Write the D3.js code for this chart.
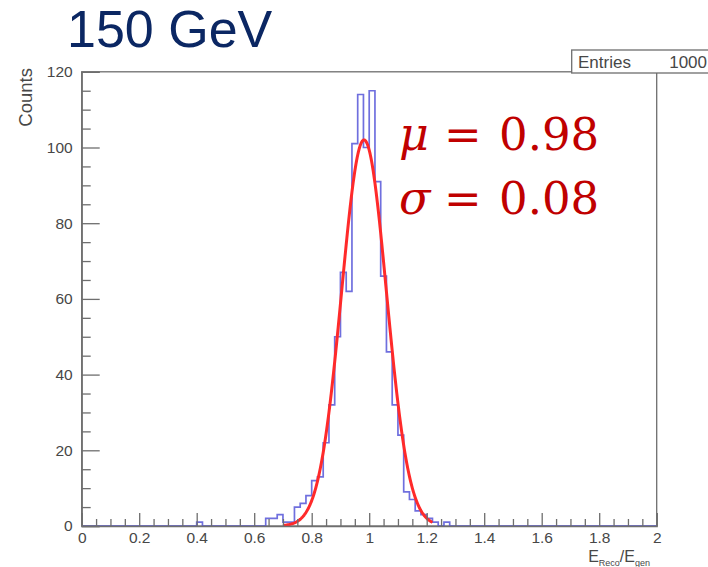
<!DOCTYPE html>
<html>
<head>
<meta charset="utf-8">
<script src="https://cdn.jsdelivr.net/npm/d3@7"></script>
<style>
  html, body { margin: 0; padding: 0; background: #fff; }
  svg { display: block; }
</style>
</head>
<body>
<script>
// ---------------- data ----------------
const histRange = [0, 2];
const binWidth = 0.02;
// lower edges of non-empty bins and their counts
const binLowEdges = [0.40, 0.64, 0.66, 0.68, 0.70, 0.72, 0.74, 0.76, 0.78, 0.80,
                     0.82, 0.84, 0.86, 0.88, 0.90, 0.92, 0.94, 0.96, 0.98, 1.00,
                     1.02, 1.04, 1.06, 1.08, 1.10, 1.12, 1.14, 1.16, 1.18, 1.20,
                     1.22, 1.26];
const binCounts   = [1, 2, 2, 3, 1, 1, 5, 6, 8, 12,
                     13, 22, 32, 50, 67, 62, 101, 114, 100, 115,
                     91, 66, 46, 32, 24, 9, 7, 4, 3, 2,
                     1, 1];
// Gaussian fit parameters
const fitAmp = 102, fitMu = 0.982, fitSigma = 0.078;
const fitRange = [0.70, 1.22];
const xTickValues = [0, 0.2, 0.4, 0.6, 0.8, 1, 1.2, 1.4, 1.6, 1.8, 2];
const xTickLabels = ["0", "0.2", "0.4", "0.6", "0.8", "1", "1.2", "1.4", "1.6", "1.8", "2"];
const yTickValues = [0, 20, 40, 60, 80, 100, 120];
const yTickLabels = ["0", "20", "40", "60", "80", "100", "120"];
const titleText = "150 GeV";
const entriesText = "1000";
const muText = "0.98", sigmaText = "0.08";

// ---------------- chart ----------------
const W = 708, H = 567;
const svg = d3.select("body").append("svg").attr("width", W).attr("height", H);

const x = d3.scaleLinear().domain(histRange).range([81.7, 656.7]);
const y = d3.scaleLinear().domain([0, 120]).range([526, 71.8]);

const axisColor = "#6e6e6e";
const labelColor = "#474747";
const sans = "Liberation Sans, Arial, sans-serif";

// frame
svg.append("rect")
  .attr("x", x(0)).attr("y", y(120))
  .attr("width", x(2) - x(0)).attr("height", y(0) - y(120))
  .attr("fill", "none").attr("stroke", axisColor).attr("stroke-width", 1.3);

// histogram (full bins)
const nBins = Math.round((histRange[1] - histRange[0]) / binWidth);
const full = new Array(nBins).fill(0);
binLowEdges.forEach((e, i) => { full[Math.round((e - histRange[0]) / binWidth)] = binCounts[i]; });
const pts = [];
pts.push([x(histRange[0]), y(0)]);
full.forEach((c, i) => {
  const lo = histRange[0] + i * binWidth, hi = lo + binWidth;
  pts.push([x(lo), y(c)]);
  pts.push([x(hi), y(c)]);
});
pts.push([x(histRange[1]), y(0)]);
svg.append("path")
  .attr("d", d3.line()(pts))
  .attr("fill", "none")
  .attr("stroke", "#5656d8")
  .attr("stroke-opacity", 0.85)
  .attr("stroke-width", 1.7);

// fit curve
const fitPts = d3.range(fitRange[0], fitRange[1] + 1e-9, 0.002).map(v =>
  [x(v), y(fitAmp * Math.exp(-0.5 * Math.pow((v - fitMu) / fitSigma, 2)))]);
svg.append("path")
  .attr("d", d3.line()(fitPts))
  .attr("fill", "none")
  .attr("stroke", "#ff2a2a")
  .attr("stroke-width", 3)
  .attr("stroke-linejoin", "round");

// y axis: minor ticks
const yMinor = d3.range(0, 121, 5).filter(v => v % 20 !== 0);
svg.append("g").attr("transform", `translate(${x(0)},0)`)
  .call(d3.axisLeft(y).tickValues(yMinor).tickSize(-9).tickFormat(""))
  .call(g => g.select(".domain").remove())
  .call(g => g.selectAll("line").attr("stroke", axisColor).attr("stroke-width", 1.3));
// y axis: major ticks + labels
svg.append("g").attr("transform", `translate(${x(0)},0)`)
  .call(d3.axisLeft(y).tickValues(yTickValues).tickSize(-18).tickPadding(9)
        .tickFormat((d, i) => yTickLabels[i]))
  .call(g => g.select(".domain").attr("stroke", axisColor).attr("stroke-width", 1.3))
  .call(g => g.selectAll("line").attr("stroke", axisColor).attr("stroke-width", 1.3))
  .call(g => g.selectAll("text").attr("fill", labelColor)
        .attr("font-family", sans).attr("font-size", 15.5));

// x axis: minor ticks
const xMinor = d3.range(0, 2.0001, 0.05).map(v => +v.toFixed(2))
  .filter(v => Math.abs(v / 0.2 - Math.round(v / 0.2)) > 1e-6);
svg.append("g").attr("transform", `translate(0,${y(0)})`)
  .call(d3.axisBottom(x).tickValues(xMinor).tickSize(-7).tickFormat(""))
  .call(g => g.select(".domain").remove())
  .call(g => g.selectAll("line").attr("stroke", axisColor).attr("stroke-width", 1.3));
// x axis: major ticks + labels
svg.append("g").attr("transform", `translate(0,${y(0)})`)
  .call(d3.axisBottom(x).tickValues(xTickValues).tickSize(-13).tickPadding(6)
        .tickFormat((d, i) => xTickLabels[i]))
  .call(g => g.select(".domain").attr("stroke", axisColor).attr("stroke-width", 1.3))
  .call(g => g.selectAll("line").attr("stroke", axisColor).attr("stroke-width", 1.3))
  .call(g => g.selectAll("text").attr("fill", labelColor)
        .attr("font-family", sans).attr("font-size", 15.5));

// y axis title
svg.append("text")
  .attr("transform", "translate(31.5,68) rotate(-90)")
  .attr("text-anchor", "end")
  .attr("font-family", sans)
  .attr("font-size", 18.5)
  .attr("fill", labelColor)
  .text("Counts");

// x axis title  E_Reco / E_gen
const xt = svg.append("text")
  .attr("x", 650).attr("y", 562)
  .attr("text-anchor", "end")
  .attr("font-family", sans)
  .attr("font-size", 16)
  .attr("fill", labelColor);
xt.append("tspan").text("E");
xt.append("tspan").attr("font-size", 9).attr("dy", 3.5).text("Reco");
xt.append("tspan").attr("dy", -3.5).text("/E");
xt.append("tspan").attr("font-size", 9).attr("dy", 3.5).text("gen");

// stats box
svg.append("rect")
  .attr("x", 571.7).attr("y", 50).attr("width", 150).attr("height", 23)
  .attr("fill", "#fff").attr("stroke", axisColor).attr("stroke-width", 1.3);
svg.append("text").attr("x", 578).attr("y", 68)
  .attr("font-family", sans).attr("font-size", 17)
  .attr("fill", labelColor).text("Entries");
svg.append("text").attr("x", 707).attr("y", 68).attr("text-anchor", "end")
  .attr("font-family", sans).attr("font-size", 17)
  .attr("fill", labelColor).text(entriesText);

// title
svg.append("text")
  .attr("x", 67).attr("y", 47)
  .attr("font-family", sans)
  .attr("font-size", 52)
  .attr("fill", "#0b2763")
  .text(titleText);

// fit result annotation
const red = "#c00000";
function statLine(sym, val, baseline) {
  svg.append("text").attr("x", 399).attr("y", baseline)
    .attr("font-family", "DejaVu Serif, serif").attr("font-style", "italic")
    .attr("font-size", 46).attr("fill", red).text(sym);
  svg.append("text").attr("x", 444).attr("y", baseline)
    .attr("font-family", "DejaVu Serif, serif")
    .attr("font-size", 45).attr("fill", red).text("=");
  svg.append("text").attr("x", 499).attr("y", baseline)
    .attr("font-family", "DejaVu Serif, serif")
    .attr("font-size", 45).attr("fill", red).text(val);
}
statLine("\u03bc", muText, 150);
statLine("\u03c3", sigmaText, 214);
</script>
</body>
</html>
